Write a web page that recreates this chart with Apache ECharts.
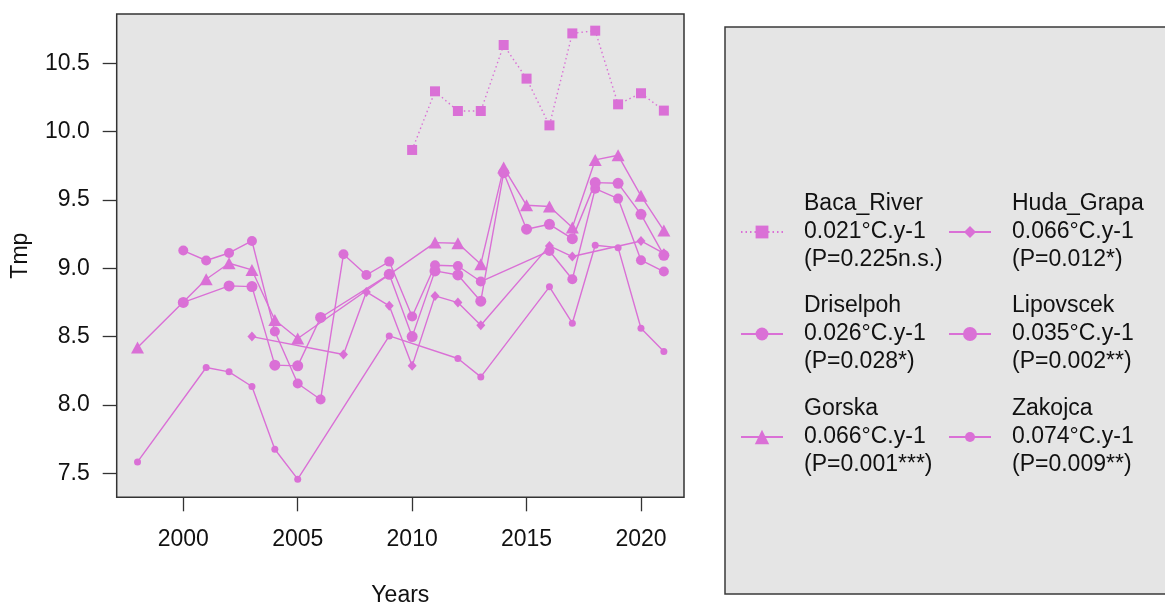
<!DOCTYPE html>
<html>
<head>
<meta charset="utf-8">
<script src="https://cdn.jsdelivr.net/npm/echarts@6/dist/echarts.min.js"></script>
<style>
html,body{margin:0;padding:0;background:#fff;}
#chart{width:1165px;height:604px;}
</style>
</head>
<body>
<div id="chart"></div>
<script>
// ---- data ----
const years = [1998,1999,2000,2001,2002,2003,2004,2005,2006,2007,2008,2009,2010,2011,2012,2013,2014,2015,2016,2017,2018,2019,2020,2021];
const sites = ['Baca_River','Driselpoh','Gorska','Huda_Grapa','Lipovscek','Zakojca'];
const slopes = ['0.021°C.y-1','0.026°C.y-1','0.066°C.y-1','0.066°C.y-1','0.035°C.y-1','0.074°C.y-1'];
const pvals = ['(P=0.225n.s.)','(P=0.028*)','(P=0.001***)','(P=0.012*)','(P=0.002**)','(P=0.009**)'];
const bacaRiver = [null,null,null,null,null,null,null,null,null,null,null,null,9.866,10.295,10.151,10.151,10.634,10.388,10.046,10.719,10.739,10.200,10.281,10.154];
const driselpoh = [null,null,9.13,9.057,9.112,9.20,8.537,8.157,8.04,9.103,8.951,9.049,8.647,9.022,9.017,8.903,null,null,9.127,8.92,9.583,9.51,9.059,8.976];
const gorska    = [8.42,null,null,8.92,9.037,8.988,8.622,8.486,null,null,null,null,null,9.188,9.183,9.03,9.737,9.461,9.452,9.298,9.793,9.827,9.53,9.276];
const hudaGrapa = [null,null,null,null,null,8.50,null,null,null,8.369,8.827,8.725,8.286,8.798,8.749,8.583,null,null,9.164,9.086,null,null,9.20,9.11];
const lipovscek = [null,null,8.75,null,8.871,8.866,8.291,8.286,8.64,null,null,8.956,8.50,8.981,8.951,8.759,9.70,9.286,9.322,9.217,9.627,9.622,9.395,9.095];
const zakojca   = [7.583,null,null,8.274,8.242,8.135,7.676,7.457,null,null,null,8.505,null,null,8.34,8.205,null,null,8.864,8.598,9.169,9.151,8.561,8.391];
const xTicks = [2000,2005,2010,2015,2020];
const yTicks = [7.5,8.0,8.5,9.0,9.5,10.0,10.5];

// ---- styling ----
const COLOR = '#DA70D6';
const FONT = '"Liberation Sans", Arial, sans-serif';
const seriesValues = [bacaRiver, driselpoh, gorska, hudaGrapa, lipovscek, zakojca];
const seriesStyle = [
  {symbol:'rect', size:10, line:[1.5,3]},
  {symbol:'circle', size:10, line:'solid'},
  {symbol:'triangle', size:[13,12], line:'solid'},
  {symbol:'diamond', size:[9,10], line:'solid'},
  {symbol:'circle', size:11, line:'solid'},
  {symbol:'circle', size:7, line:'solid'}
];
const legendLayout = [
  {left:740, top:190, h:16},
  {left:740, top:292, h:16},
  {left:740, top:395, h:18},
  {left:948, top:190, h:15},
  {left:948, top:292, h:17.5},
  {left:948, top:395, h:12.5}
];

function toPairs(vals){
  const out = [];
  years.forEach((y,i)=>{ if(vals[i] !== null) out.push([y, vals[i]]); });
  return out;
}

const chart = echarts.init(document.getElementById('chart'), null, {renderer:'canvas'});
const option = {
  animation: false,
  backgroundColor: '#ffffff',
  textStyle: {fontFamily: FONT},
  graphic: [{
    type:'rect', z:0, silent:true,
    shape:{x:725, y:27, width:470, height:567},
    style:{fill:'#e5e5e5', stroke:'#3a3a3a', lineWidth:1.5}
  }],
  grid: {
    left:116.7, top:14, right:481, bottom:106.7,
    outerBoundsMode:'none', containLabel:false,
    show:true, backgroundColor:'#e5e5e5', borderColor:'#333', borderWidth:1.5
  },
  xAxis: {
    type:'value', min:1997.09, max:2021.88,
    name:'Years', nameLocation:'middle', nameGap:98,
    nameTextStyle:{fontSize:23, color:'#111', fontFamily:FONT, verticalAlign:'middle'},
    axisLine:{show:false},
    axisTick:{show:true, inside:false, length:14, customValues:xTicks, lineStyle:{color:'#333', width:1.3}},
    axisLabel:{customValues:xTicks, margin:31, fontSize:23, color:'#111', fontFamily:FONT,
      formatter:v=>String(Math.round(v))},
    splitLine:{show:false}
  },
  yAxis: {
    type:'value', min:7.324, max:10.861,
    name:'Tmp', nameLocation:'middle', nameGap:96, nameRotate:90,
    nameTextStyle:{fontSize:23, color:'#111', fontFamily:FONT, verticalAlign:'middle'},
    axisLine:{show:false},
    axisTick:{show:true, inside:false, length:14, customValues:yTicks, lineStyle:{color:'#333', width:1.3}},
    axisLabel:{customValues:yTicks, margin:27, fontSize:23, color:'#111', fontFamily:FONT,
      formatter:v=>Number(v).toFixed(1)},
    splitLine:{show:false}
  },
  legend: sites.map((s,i)=>({
    data:[s], left:legendLayout[i].left, top:legendLayout[i].top,
    orient:'vertical', padding:0, itemWidth:42, itemHeight:legendLayout[i].h,
    selectedMode:false, z:5,
    formatter: name => name + '\n' + slopes[i] + '\n' + pvals[i],
    textStyle:{fontSize:23, lineHeight:28, color:'#111', fontFamily:FONT, padding:[0,0,0,16]}
  })),
  series: sites.map((s,i)=>({
    name:s, type:'line', data:toPairs(seriesValues[i]),
    connectNulls:true, silent:true,
    symbol:seriesStyle[i].symbol, symbolSize:seriesStyle[i].size, showSymbol:true,
    itemStyle:{color:COLOR, borderWidth:0},
    lineStyle:{color:COLOR, width:1.4, type:seriesStyle[i].line},
    emphasis:{disabled:true}
  }))
};
chart.setOption(option);
</script>
</body>
</html>
